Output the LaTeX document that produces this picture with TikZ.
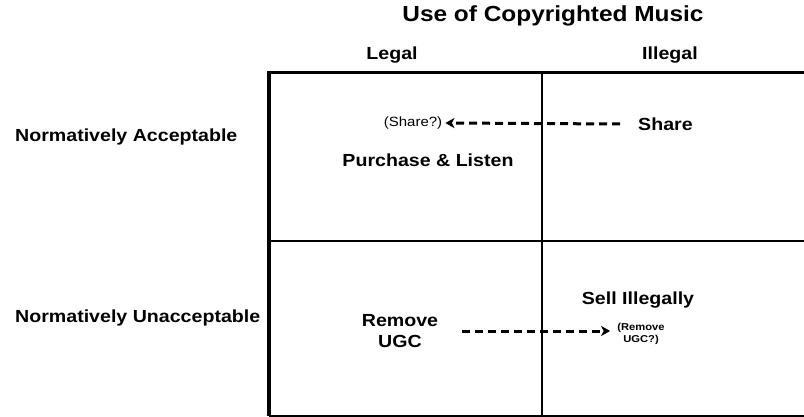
\documentclass[tikz,border=0pt]{standalone}
\usepackage{fontspec}
\setmainfont{Liberation Sans}[FakeStretch=1.12]
\usetikzlibrary{positioning, arrows.meta}

\begin{document}
\begin{tikzpicture}[
    x=1pt, y=-1pt,
    every node/.style={font=\fontsize{17.5}{21}\selectfont\bfseries, inner sep=0pt, align=center},
    titlestyle/.style={font=\fontsize{21.8}{24}\selectfont\bfseries},
    small/.style={font=\fontsize{13.4}{15}\selectfont},
    smallbold/.style={font=\fontsize{10}{12.5}\selectfont\bfseries},
    frame/.style={line width=3.5pt},
    grid/.style={line width=2pt},
    move/.style={
        -{Stealth[length=9pt, width=10pt, inset=2.5pt]},
        line width=3pt,
        dash pattern=on 8pt off 5pt,
    },
]
\useasboundingbox (0,0) rectangle (804,417);

% corners of the table
\coordinate (tl) at (269,72.5);
\coordinate (tr) at (804,72.5);
\coordinate (bl) at (269,415.5);
\coordinate (br) at (804,415.5);
\coordinate (mt) at (542,72.5);
\coordinate (mb) at (542,415.5);
\coordinate (ml) at (269,241);
\coordinate (mr) at (804,241);

\draw[grid] (mt) -- (mb);
\draw[grid] (ml) -- (mr);
\draw[grid] (bl) -- (br);
\draw[frame] ([xshift=-2pt]tl) -- (tr);
\draw[line width=4pt] ([yshift=-1.5pt]tl) -- (bl);

% headings
\node[titlestyle] (title) at (553,16) {Use of Copyrighted Music};
\node (legal) at (392,55) {Legal};
\node (illegal) at (670,55) {Illegal};
\node[anchor=west] (accept) at (15,137) {Normatively Acceptable};
\node[anchor=west] (unaccept) at (15,318) {Normatively Unacceptable};

% cells
\node[small] (shareq) at (413,123) {(Share?)};
\node[anchor=west] (share) at (638,124) {Share};
\node (purchase) at (428,160) {Purchase \& Listen};
\node (sell) at (638,300) {Sell Illegally};
\node (remove) at (400,331) {Remove\\UGC};
\node[smallbold] (removeq) at (641,334) {(Remove\\UGC?)};

\draw[move] ([xshift=-18pt]share.west) -- ([xshift=3pt]shareq.east);
\draw[move] ([xshift=24pt]remove.east) -- ([xshift=-7pt]removeq.west |- remove.east);

\end{tikzpicture}
\end{document}
